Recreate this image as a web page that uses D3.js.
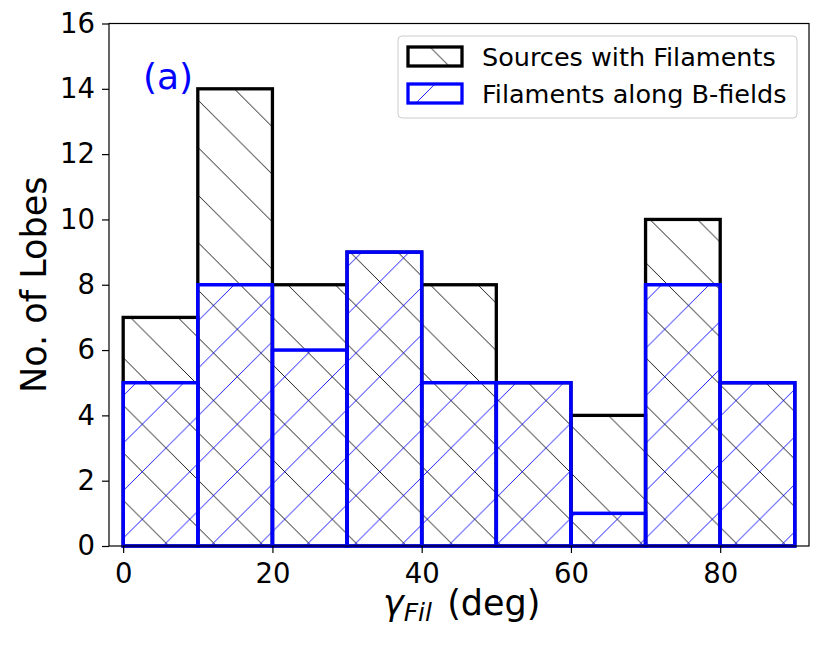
<!DOCTYPE html>
<html>
<head>
<meta charset="utf-8">
<script src="https://cdnjs.cloudflare.com/ajax/libs/d3/7.8.5/d3.min.js"></script>
<style>
  body {margin: 0; background: #fff;}
  svg {display: block; font-family: 'DejaVu Sans', sans-serif;}
</style>
</head>
<body>
<script>
// histogram bins (deg) and counts per bin
const binStarts = [0, 10, 20, 30, 40, 50, 60, 70, 80]
const binWidth = 10
const sourcesCounts = [7, 14, 8, 9, 8, 5, 4, 10, 5]
const alongCounts = [5, 8, 6, 9, 5, 5, 1, 8, 5]
const xTicks = [0, 20, 40, 60, 80]
const yTicks = [0, 2, 4, 6, 8, 10, 12, 14, 16]
const legendLabels = ['Sources with Filaments', 'Filaments along B-fields']

const svgWidth = 830
const svgHeight = 646
const plot = {left: 109, right: 809, top: 23.5, bottom: 546}

const svg = d3.select('body').append('svg')
  .attr('width', svgWidth).attr('height', svgHeight)

const x = d3.scaleLinear().domain([-1.9, 91.9]).range([plot.left, plot.right])
const y = d3.scaleLinear().domain([0, 16]).range([plot.bottom, plot.top])

// hatch patterns, fixed to page coordinates like matplotlib
const P = 47.5
const defs = svg.append('defs')
defs.append('pattern').attr('id', 'hatchBack')
  .attr('patternUnits', 'userSpaceOnUse')
  .attr('width', P).attr('height', P)
  .attr('patternTransform', 'translate(0,-3)')
  .append('path')
  .attr('d', `M0,0L${P},${P}M-2,${P - 2}L2,${P + 2}M${P - 2},-2L${P + 2},2`)
  .attr('stroke', '#000').attr('stroke-width', 0.9).attr('fill', 'none')
defs.append('pattern').attr('id', 'hatchFwd')
  .attr('patternUnits', 'userSpaceOnUse')
  .attr('width', P).attr('height', P)
  .attr('patternTransform', 'translate(44,0)')
  .append('path')
  .attr('d', `M0,${P}L${P},0M-2,2L2,-2M${P - 2},${P + 2}L${P + 2},${P - 2}`)
  .attr('stroke', '#0000ff').attr('stroke-width', 0.9).attr('fill', 'none')

const bins = (counts) => binStarts.map((s, i) => ({x0: s, x1: s + binWidth, n: counts[i]}))

// black bars first, blue bars on top
svg.append('g').selectAll('rect').data(bins(sourcesCounts)).enter().append('rect')
  .attr('x', d => x(d.x0))
  .attr('width', d => x(d.x1) - x(d.x0))
  .attr('y', d => y(d.n))
  .attr('height', d => y(0) - y(d.n))
  .attr('fill', 'url(#hatchBack)')
  .attr('stroke', '#000').attr('stroke-width', 3.3)

svg.append('g').selectAll('rect').data(bins(alongCounts)).enter().append('rect')
  .attr('x', d => x(d.x0))
  .attr('width', d => x(d.x1) - x(d.x0))
  .attr('y', d => y(d.n))
  .attr('height', d => y(0) - y(d.n))
  .attr('fill', 'url(#hatchFwd)')
  .attr('stroke', '#0000ff').attr('stroke-width', 3.5)

// axes
const xAxis = svg.append('g')
  .attr('transform', `translate(0,${plot.bottom})`)
  .call(d3.axisBottom(x).tickValues(xTicks).tickSize(7).tickPadding(10).tickSizeOuter(0))
const yAxis = svg.append('g')
  .attr('transform', `translate(${plot.left},0)`)
  .call(d3.axisLeft(y).tickValues(yTicks).tickSize(7).tickPadding(7).tickSizeOuter(0))
;[xAxis, yAxis].forEach(a => {
  a.select('.domain').remove()
  a.selectAll('line').attr('stroke', '#000').attr('stroke-width', 1.2)
  a.selectAll('text').attr('fill', '#000')
    .style('font-family', "'DejaVu Sans', sans-serif").style('font-size', '27.5px')
})

// frame
svg.append('rect')
  .attr('x', plot.left).attr('y', plot.top)
  .attr('width', plot.right - plot.left).attr('height', plot.bottom - plot.top)
  .attr('fill', 'none').attr('stroke', '#000').attr('stroke-width', 1.2)

// axis labels
svg.append('text')
  .attr('transform', `translate(46,${(plot.top + plot.bottom) / 2}) rotate(-90)`)
  .attr('text-anchor', 'middle')
  .style('font-size', '35px')
  .text('No. of Lobes')

const xl = svg.append('text')
  .attr('x', 383).attr('y', 615)
  .style('font-size', '35px')
xl.append('tspan').style('font-style', 'italic').text('γ')
xl.append('tspan').style('font-style', 'italic').style('font-size', '25px')
  .attr('dy', 6).text('Fil')
xl.append('tspan').attr('dy', -6).attr('dx', 4).text(' (deg)')

// panel tag
svg.append('text')
  .attr('x', 143).attr('y', 89)
  .attr('fill', '#0000ff')
  .style('font-size', '36px')
  .text('(a)')

// legend
const lg = svg.append('g')
lg.append('rect')
  .attr('x', 398).attr('y', 36).attr('width', 399).attr('height', 82)
  .attr('rx', 4)
  .attr('fill', '#fff').attr('fill-opacity', 0.8)
  .attr('stroke', '#cccccc').attr('stroke-width', 1)
const legendItems = [
  {label: legendLabels[0], fill: 'url(#hatchBack)', stroke: '#000', y: 47},
  {label: legendLabels[1], fill: 'url(#hatchFwd)', stroke: '#0000ff', y: 84}
]
legendItems.forEach(item => {
  lg.append('rect')
    .attr('x', 408).attr('y', item.y).attr('width', 54).attr('height', 19)
    .attr('fill', item.fill)
    .attr('stroke', item.stroke).attr('stroke-width', 3.3)
  lg.append('text')
    .attr('x', 482).attr('y', item.y + 19)
    .style('font-size', '25.5px')
    .text(item.label)
})
</script>
</body>
</html>
